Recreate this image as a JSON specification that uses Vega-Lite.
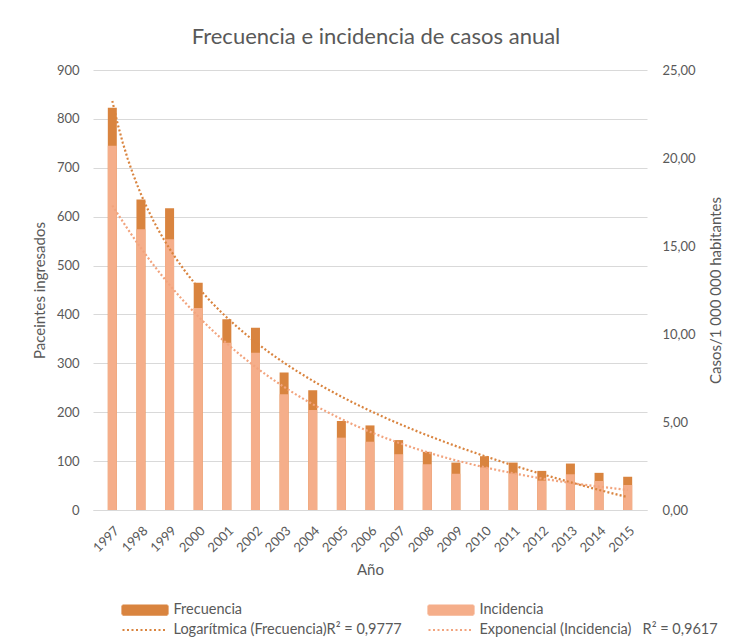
{
  "$schema": "https://vega.github.io/schema/vega-lite/v6.json",
  "width": 554,
  "height": 440,
  "autosize": "none",
  "padding": {"left": 93, "top": 70, "right": 90, "bottom": 131},
  "title": {"text": "Frecuencia e incidencia de casos anual", "fontSize": 22, "fontWeight": "normal", "color": "#595959", "font": "Lato", "anchor": "middle", "offset": 15, "dx": 6},
  "data": {"values": [
    {"t": 1, "anio": 1997, "frecuencia": 823, "incidencia": 20.7, "exp_incidencia": 17.3},
    {"t": 2, "anio": 1998, "frecuencia": 635, "incidencia": 15.95, "exp_incidencia": 14.88},
    {"t": 3, "anio": 1999, "frecuencia": 617, "incidencia": 15.38, "exp_incidencia": 12.79},
    {"t": 4, "anio": 2000, "frecuencia": 465, "incidencia": 11.48, "exp_incidencia": 11.0},
    {"t": 5, "anio": 2001, "frecuencia": 390, "incidencia": 9.5, "exp_incidencia": 9.46},
    {"t": 6, "anio": 2002, "frecuencia": 373, "incidencia": 8.94, "exp_incidencia": 8.13},
    {"t": 7, "anio": 2003, "frecuencia": 281, "incidencia": 6.57, "exp_incidencia": 6.99},
    {"t": 8, "anio": 2004, "frecuencia": 245, "incidencia": 5.68, "exp_incidencia": 6.01},
    {"t": 9, "anio": 2005, "frecuencia": 182, "incidencia": 4.11, "exp_incidencia": 5.17},
    {"t": 10, "anio": 2006, "frecuencia": 173, "incidencia": 3.88, "exp_incidencia": 4.44},
    {"t": 11, "anio": 2007, "frecuencia": 143, "incidencia": 3.17, "exp_incidencia": 3.82},
    {"t": 12, "anio": 2008, "frecuencia": 119, "incidencia": 2.6, "exp_incidencia": 3.28},
    {"t": 13, "anio": 2009, "frecuencia": 97, "incidencia": 2.06, "exp_incidencia": 2.82},
    {"t": 14, "anio": 2010, "frecuencia": 110, "incidencia": 2.42, "exp_incidencia": 2.43},
    {"t": 15, "anio": 2011, "frecuencia": 97, "incidencia": 2.08, "exp_incidencia": 2.09},
    {"t": 16, "anio": 2012, "frecuencia": 80, "incidencia": 1.67, "exp_incidencia": 1.79},
    {"t": 17, "anio": 2013, "frecuencia": 95, "incidencia": 2.03, "exp_incidencia": 1.54},
    {"t": 18, "anio": 2014, "frecuencia": 76, "incidencia": 1.65, "exp_incidencia": 1.33},
    {"t": 19, "anio": 2015, "frecuencia": 68, "incidencia": 1.42, "exp_incidencia": 1.14}
  ]},
  "encoding": {
    "x": {
      "field": "t", "type": "quantitative",
      "scale": {"domain": [0.5, 19.5], "nice": false, "zero": false},
      "axis": {
        "title": "Año", "values": [1,2,3,4,5,6,7,8,9,10,11,12,13,14,15,16,17,18,19],
        "labelExpr": "'' + (datum.value + 1996)", "labelAngle": -45, "labelFontSize": 13, "labelColor": "#595959",
        "grid": false, "ticks": false, "domainColor": "#D9D9D9", "domainWidth": 1.2, "labelPadding": 14, "labelDx": -8,
        "labelFlush": false, "labelOverlap": false,
        "titleFontSize": 15, "titleFontWeight": "normal", "titleColor": "#595959", "titlePadding": 8
      }
    }
  },
  "layer": [
    {
      "mark": {"type": "bar", "width": 9},
      "encoding": {
        "y": {
          "field": "frecuencia", "type": "quantitative",
          "scale": {"domain": [0, 900], "nice": false},
          "axis": {
            "orient": "left", "title": "Paceintes ingresados", "values": [0,100,200,300,400,500,600,700,800,900],
            "grid": true, "gridColor": "#D9D9D9", "gridWidth": 1.2, "domain": false, "ticks": false,
            "labelPadding": 14, "labelFontSize": 13, "labelColor": "#595959",
            "titleFontSize": 15, "titleFontWeight": "normal", "titleColor": "#595959", "titlePadding": 9
          }
        },
        "color": {
          "datum": "Frecuencia",
          "scale": {
            "domain": ["Frecuencia", "Logarítmica (Frecuencia)", "Incidencia", "Exponencial (Incidencia)"],
            "range": ["#D9843F", "#D9843F", "#F5AE8A", "#F2A47E"]
          },
          "legend": {
            "orient": "none", "legendX": 43, "legendY": 531, "columns": 2, "columnPadding": 22, "rowPadding": 2,
            "title": null, "symbolSize": 225, "symbolType": "M-3,-0.6H3V0.6H-3Z",
            "labelFontSize": 14.5, "labelColor": "#595959", "labelOffset": 19.5, "labelLimit": 400,
            "labelExpr": "datum.label == 'Logarítmica (Frecuencia)' ? 'Logarítmica (Frecuencia)R² = 0,9777' : datum.label == 'Exponencial (Incidencia)' ? 'Exponencial (Incidencia)\u00a0\u00a0\u00a0R² = 0,9617' : datum.label",
            "encode": {
              "symbols": {
                "update": {
                  "shape": {"signal": "indexof(['Frecuencia','Incidencia'], datum.value) < 0 ? 'M-3,0H3' : 'M-3,-0.6H3V0.6H-3Z'"},
                  "fill": [{"test": "indexof(['Frecuencia','Incidencia'], datum.value) < 0", "value": "transparent"}, {"scale": "color", "field": "value"}],
                  "stroke": [{"test": "indexof(['Frecuencia','Incidencia'], datum.value) < 0", "scale": "color", "field": "value"}, {"value": "transparent"}],
                  "strokeDash": {"signal": "indexof(['Frecuencia','Incidencia'], datum.value) < 0 ? [2, 2.5] : [1, 0]"},
                  "strokeWidth": {"value": 2.2},
                  "opacity": {"value": 1}
                }
              }
            }
          }
        }
      }
    },
    {
      "mark": {"type": "bar", "width": 9},
      "encoding": {
        "y": {
          "field": "incidencia", "type": "quantitative",
          "scale": {"domain": [0, 25], "nice": false},
          "axis": {
            "orient": "right", "title": "Casos/1 000 000 habitantes", "values": [0,5,10,15,20,25],
            "labelExpr": "replace(format(datum.value, '.2f'), '.', ',')",
            "grid": false, "domain": false, "ticks": false,
            "labelPadding": 15, "labelFontSize": 13, "labelColor": "#595959",
            "titleAngle": 270, "titleBaseline": "top",
            "titleFontSize": 15, "titleFontWeight": "normal", "titleColor": "#595959", "titlePadding": 13
          }
        },
        "color": {"datum": "Incidencia"}
      }
    },
    {
      "transform": [{"regression": "frecuencia", "on": "t", "method": "log", "extent": [1, 19]}],
      "mark": {"type": "line", "strokeWidth": 2.2, "strokeDash": [2, 2.2]},
      "encoding": {
        "y": {"field": "frecuencia", "type": "quantitative", "scale": {"domain": [0, 900], "nice": false}, "axis": null},
        "color": {"datum": "Logarítmica (Frecuencia)"}
      }
    },
    {
      "mark": {"type": "line", "strokeWidth": 2.2, "strokeDash": [2, 2.2], "interpolate": "monotone"},
      "encoding": {
        "y": {"field": "exp_incidencia", "type": "quantitative", "scale": {"domain": [0, 25], "nice": false}, "axis": null},
        "color": {"datum": "Exponencial (Incidencia)"}
      }
    }
  ],
  "resolve": {"scale": {"y": "independent"}},
  "config": {
    "font": "Lato",
    "view": {"stroke": null},
    "background": "white"
  }
}
